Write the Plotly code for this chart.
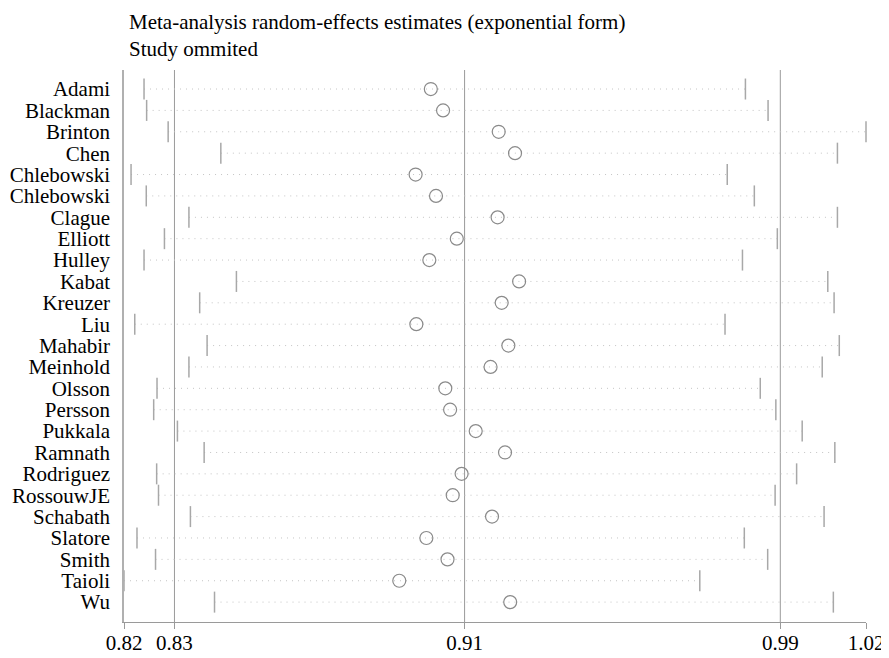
import plotly.graph_objects as go

studies = ["Adami", "Blackman", "Brinton", "Chen", "Chlebowski", "Chlebowski", "Clague",
           "Elliott", "Hulley", "Kabat", "Kreuzer", "Liu", "Mahabir", "Meinhold", "Olsson",
           "Persson", "Pukkala", "Ramnath", "Rodriguez", "RossouwJE", "Schabath", "Slatore",
           "Smith", "Taioli", "Wu"]
lower = [0.8254, 0.8261, 0.8319, 0.8461, 0.8219, 0.8260, 0.8375, 0.8309, 0.8254, 0.8503,
         0.8404, 0.8229, 0.8424, 0.8375, 0.8289, 0.8280, 0.8344, 0.8416, 0.8288, 0.8293,
         0.8379, 0.8235, 0.8285, 0.8200, 0.8444]
estimate = [0.9027, 0.9060, 0.9210, 0.9254, 0.8986, 0.9041, 0.9207, 0.9097, 0.9023, 0.9265,
            0.9218, 0.8988, 0.9236, 0.9188, 0.9066, 0.9079, 0.9148, 0.9227, 0.9110, 0.9086,
            0.9192, 0.9015, 0.9072, 0.8942, 0.9241]
upper = [0.9875, 0.9936, 1.0200, 1.0123, 0.9826, 0.9899, 1.0123, 0.9961, 0.9867, 1.0097,
         1.0114, 0.9820, 1.0128, 1.0082, 0.9915, 0.9957, 1.0028, 1.0116, 1.0013, 0.9955,
         1.0087, 0.9872, 0.9935, 0.9752, 1.0112]
tick_values = [0.8200, 0.8336, 0.9118, 0.9969, 1.0200]
tick_labels = ["0.82", "0.83", "0.91", "0.99", "1.02"]
title_lines = ["Meta-analysis random-effects estimates (exponential form)", "Study ommited"]

FONT = "Liberation Serif"
rows = list(range(len(studies)))

fig = go.Figure()

# dotted CI lines
lx, ly = [], []
for i in rows:
    lx += [lower[i], upper[i], None]
    ly += [i, i, None]
fig.add_trace(go.Scatter(x=lx, y=ly, mode="lines",
                         line=dict(color="#c4c4c4", width=1, dash="1px,5px"),
                         hoverinfo="skip", cliponaxis=False))

# CI end ticks
fig.add_trace(go.Scatter(x=lower + upper, y=rows + rows, mode="markers",
                         marker=dict(symbol="line-ns-open", size=15, color="#a8a8a8",
                                     line=dict(width=1.5, color="#a8a8a8")),
                         cliponaxis=False))

# estimates
fig.add_trace(go.Scatter(x=estimate, y=rows, mode="markers",
                         marker=dict(symbol="circle-open", size=13, color="#8a8a8a",
                                     line=dict(width=1.2, color="#8a8a8a")),
                         cliponaxis=False))

# reference vertical lines (overall lower CI, estimate, upper CI)
for v in tick_values[1:4]:
    fig.add_shape(type="line", xref="x", yref="paper", x0=v, x1=v, y0=0, y1=1,
                  line=dict(color="#9a9a9a", width=1), layer="below")

fig.add_annotation(text="<br>".join(title_lines), xref="paper", yref="paper",
                   x=3 / 742, y=1 + 62 / 552,
                   xanchor="left", yanchor="top", align="left", showarrow=False,
                   font=dict(family=FONT, size=21, color="black"))

fig.update_layout(
    width=881, height=650,
    margin=dict(l=116, r=23, t=62, b=36, autoexpand=False),
    paper_bgcolor="white", plot_bgcolor="white",
    showlegend=False,
    font=dict(family=FONT, size=21, color="black"),
    xaxis=dict(range=[0.82, 1.02], tickvals=tick_values, ticktext=tick_labels,
               showgrid=False, zeroline=False, showline=True, linecolor="#9a9a9a",
               linewidth=1, ticks="outside", ticklen=6, tickcolor="#9a9a9a",
               ticklabelstandoff=-4, automargin=False,
               tickfont=dict(family=FONT, size=21, color="black")),
    yaxis=dict(range=[24.93, -0.89], tickvals=rows, ticktext=studies,
               showgrid=False, zeroline=False, showline=True, linecolor="#b0b0b0",
               linewidth=1.5, ticks="", ticklabelstandoff=8, automargin=False,
               tickfont=dict(family=FONT, size=21, color="black")),
)

fig.write_html("out.html")
